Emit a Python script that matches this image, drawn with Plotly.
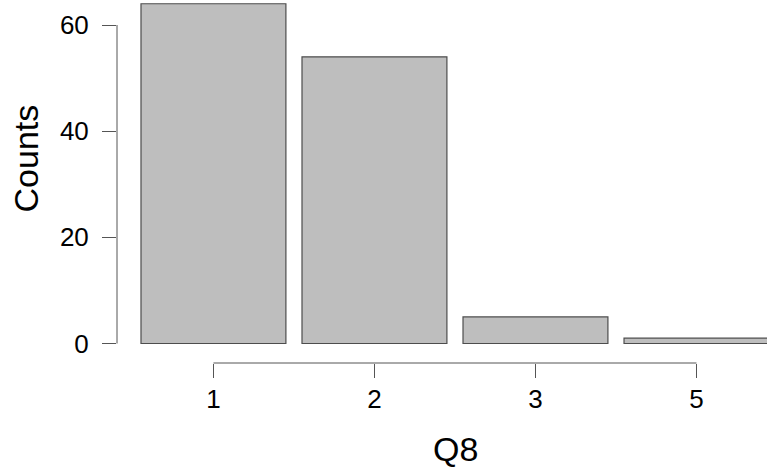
import plotly.graph_objects as go

categories = ["1", "2", "3", "5"]
counts = [64, 54, 5, 1]
y_ticks = [0, 20, 40, 60]

positions = list(range(len(categories)))

fig = go.Figure()
fig.add_trace(go.Bar(
    x=positions, y=counts, width=0.9,
    marker=dict(color="#BEBEBE", line=dict(color="#4d4d4d", width=1.2)),
    showlegend=False,
))

axis_col = "#555555"
font_fam = "Liberation Sans, Arial, sans-serif"

fig.update_layout(
    width=767, height=472,
    margin=dict(l=117, r=0, t=0, b=109),
    paper_bgcolor="white", plot_bgcolor="white",
    xaxis=dict(range=[-0.599, 3.438], tickvals=positions, ticktext=categories,
               ticks="outside", ticklen=14, tickcolor=axis_col, tickwidth=1,
               showgrid=False, zeroline=False, showline=False,
               tickfont=dict(family=font_fam, size=26, color="black"),
               ticklabelstandoff=-1),
    yaxis=dict(range=[-3.67, 64.71], tickvals=y_ticks,
               ticks="outside", ticklen=14, tickcolor=axis_col, tickwidth=1,
               showgrid=False, zeroline=False, showline=False,
               tickfont=dict(family=font_fam, size=26, color="black"),
               ticklabelstandoff=8),
    shapes=[
        dict(type="line", xref="x", yref="paper", x0=positions[0], x1=positions[-1],
             y0=0, y1=0, line=dict(color=axis_col, width=1)),
        dict(type="line", xref="paper", yref="y", x0=0, x1=0,
             y0=y_ticks[0], y1=y_ticks[-1], line=dict(color=axis_col, width=1)),
    ],
    annotations=[
        dict(text="Counts", xref="paper", yref="paper", x=-0.14, y=0.5634,
             textangle=-90, showarrow=False, xanchor="center", yanchor="middle",
             font=dict(family=font_fam, size=34, color="black")),
        dict(text="Q8", xref="paper", yref="paper", x=0.52, y=-0.237,
             showarrow=False, xanchor="center", yanchor="middle",
             font=dict(family=font_fam, size=34, color="black")),
    ],
)

fig.write_html("out.html", config={"displayModeBar": False},
               post_script="document.body.style.margin='0';document.body.style.padding='0';")
